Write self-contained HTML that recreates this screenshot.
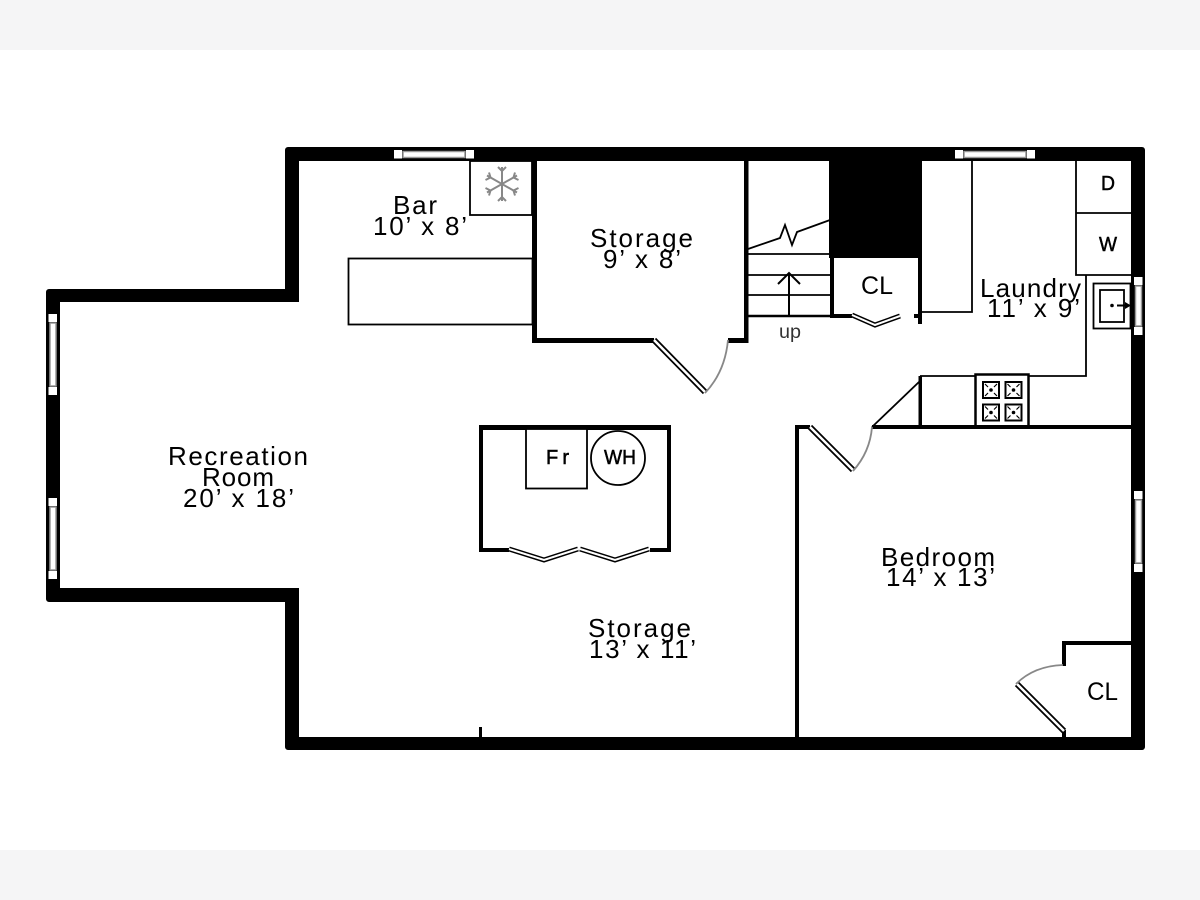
<!DOCTYPE html>
<html>
<head>
<meta charset="utf-8">
<title>Floor plan</title>
<style>
html,body{margin:0;padding:0;background:#fff;}
svg{display:block;}
text{font-family:"Liberation Sans",sans-serif;fill:#000;}
.t{font-size:26px;}
.c{font-size:25px;}
.s{font-size:20px;stroke:#000;stroke-width:.5px;}
</style>
</head>
<body>
<svg width="1200" height="900" viewBox="0 0 1200 900" xmlns="http://www.w3.org/2000/svg">
<defs>
<g id="bf"><path d="M0 0L35 11L69 0" fill="none" stroke="#000" stroke-width="5"/><path d="M0 0L35 11L69 0" fill="none" stroke="#fff" stroke-width="2"/></g>
<g id="wh"><rect x="0" y="0" width="8" height="8.500" fill="#fff"/><rect x="72" y="0" width="8" height="8.500" fill="#fff"/><rect x="9" y="1.500" width="62" height="6" fill="#fff" stroke="#999" stroke-width="1.500"/></g>
<g id="wv"><rect x="0" y="0" width="8.500" height="8" fill="#fff"/><rect x="0" y="73" width="8.500" height="8" fill="#fff"/><rect x="1.500" y="9" width="6" height="63" fill="#fff" stroke="#999" stroke-width="1.500"/></g>
<g id="bn"><rect x="0" y="0" width="16" height="16" fill="#fff" stroke="#000" stroke-width="2"/><path d="M2 2L5 5M14 2L11 5M2 14L5 11M14 14L11 11" stroke="#000" stroke-width="1.200"/><circle cx="8" cy="8" r="1.800" fill="#000"/></g>
</defs>

<rect width="1200" height="900" fill="#fff"/>
<rect width="1200" height="50" fill="#f5f5f6"/>
<rect y="850" width="1200" height="50" fill="#f5f5f6"/>

<!-- outer walls -->
<path d="M288 150H1142V747H288V599H49V292H288Z" fill="#000" stroke="#000" stroke-width="6" stroke-linejoin="round"/>
<path d="M299 161H1131V737H299V588H60V302H299Z" fill="#fff"/>

<!-- windows -->
<use href="#wh" x="394" y="150"/>
<use href="#wh" x="955" y="150"/>
<use href="#wv" x="48.500" y="314"/>
<use href="#wv" x="48.500" y="498"/>
<use href="#wv" x="1134" y="491"/>
<g><rect x="1134" y="277" width="8.500" height="8" fill="#fff"/><rect x="1134" y="327" width="8.500" height="8" fill="#fff"/><rect x="1135.500" y="286" width="6" height="40" fill="#fff" stroke="#999" stroke-width="1.500"/></g>

<!-- bar -->
<g fill="none" stroke="#000">
<rect x="470" y="161" width="62" height="54" stroke-width="1.800"/>
<rect x="348.500" y="258.500" width="184" height="66" stroke-width="1.800"/>
</g>
<g stroke="#888" stroke-width="2" fill="none" transform="translate(502 184)">
<path d="M0-17V17M-15-8.500L15 8.500M-15 8.500L15-8.500"/>
<path d="M-4-17L0-13L4-17M-4 17L0 13L4 17M-16.500-4L-11.500-6.500L-13-11.500M16.500-4L11.500-6.500L13-11.500M-16.500 4L-11.500 6.500L-13 11.500M16.500 4L11.500 6.500L13 11.500"/>
</g>

<!-- storage room walls -->
<g fill="#000">
<rect x="532" y="161" width="5" height="182"/>
<rect x="532" y="338" width="122" height="5"/>
<rect x="728" y="338" width="20" height="5"/>
<rect x="744" y="161" width="4.500" height="182"/>
</g>
<path d="M654 340L705 392" stroke="#000" stroke-width="6" fill="none"/>
<path d="M654 340L705 392" stroke="#fff" stroke-width="2.500" fill="none"/>
<path d="M705 393Q725 372 728 340" stroke="#888" stroke-width="1.800" fill="none"/>

<!-- stairs -->
<g stroke="#000" fill="none">
<path d="M748 254H830M748 275H830M748 295H830" stroke-width="1.800"/>
<path d="M748 316H830" stroke-width="2.500"/>
<path d="M748 249L780 238L785 225L792 245L797 232L830 220" stroke-width="1.800"/>
<path d="M789 316V273M778 284L789 273L800 284" stroke-width="2"/>
</g>

<!-- chimney + closet -->
<rect x="829" y="161" width="93" height="97" fill="#000"/>
<rect x="830" y="258" width="4" height="60" fill="#000"/>
<rect x="918" y="258" width="4" height="66" fill="#000"/>
<rect x="830" y="314" width="22" height="4" fill="#000"/>
<rect x="914" y="314" width="8" height="4" fill="#000"/>
<path d="M852 315L875 325L900 316" stroke="#000" stroke-width="5" fill="none"/>
<path d="M852 315L875 325L900 316" stroke="#fff" stroke-width="2" fill="none"/>
<path d="M922 312H972V161" stroke="#000" stroke-width="1.800" fill="none"/>

<!-- laundry -->
<g fill="none" stroke="#000" stroke-width="1.800">
<path d="M1076 161V275H1131M1076 213H1131"/>
<path d="M1086 275V376H920"/>
<rect x="1093.500" y="283.500" width="37" height="45"/>
<rect x="1100" y="290" width="24" height="32"/>
<path d="M872 427L920 381"/>
<path d="M1117 305.500H1126" stroke-width="2"/>
</g>
<path d="M1125 302L1131 305.500L1125 309Z" fill="#000"/>
<circle cx="1112" cy="305.500" r="1.800" fill="#000"/>
<rect x="918.500" y="376" width="3.500" height="51" fill="#000"/>
<rect x="975.500" y="374.500" width="53" height="52" fill="#fff" stroke="#000" stroke-width="2.500"/>
<use href="#bn" x="983" y="382"/>
<use href="#bn" x="1005.500" y="382"/>
<use href="#bn" x="983" y="404.500"/>
<use href="#bn" x="1005.500" y="404.500"/>

<!-- bedroom walls -->
<g fill="#000">
<rect x="872" y="425" width="259" height="4"/>
<rect x="795" y="425" width="4" height="312"/>
<rect x="795" y="425" width="15" height="4"/>
<rect x="1062" y="641" width="4" height="25"/>
<rect x="1062" y="641" width="69" height="4"/>
<rect x="1062" y="730" width="4" height="7"/>
<rect x="479" y="727" width="3" height="10"/>
</g>
<path d="M810 427L853 470" stroke="#000" stroke-width="6" fill="none"/>
<path d="M810 427L853 470" stroke="#fff" stroke-width="2.500" fill="none"/>
<path d="M853 471Q870 452 872 427" stroke="#888" stroke-width="1.800" fill="none"/>
<path d="M1017 684L1064 731" stroke="#000" stroke-width="6" fill="none"/>
<path d="M1017 684L1064 731" stroke="#fff" stroke-width="2.500" fill="none"/>
<path d="M1016 684Q1034 666 1063 665" stroke="#888" stroke-width="1.800" fill="none"/>

<!-- utility closet -->
<g fill="#000">
<rect x="480" y="425" width="191" height="5"/>
<rect x="479" y="425" width="4" height="127"/>
<rect x="667" y="425" width="4" height="127"/>
<rect x="479" y="548" width="30" height="4"/>
<rect x="650" y="548" width="21" height="4"/>
</g>
<use href="#bf" x="509" y="549"/>
<use href="#bf" x="580" y="549"/>
<rect x="526" y="429" width="61" height="59.500" fill="#fff" stroke="#000" stroke-width="1.800"/>
<circle cx="618" cy="458" r="27" fill="#fff" stroke="#000" stroke-width="1.800"/>

<!-- labels -->
<text class="t" x="393" y="214" textLength="44">Bar</text>
<text class="t" x="373" y="235" textLength="94">10’ x 8’</text>
<text class="t" x="590" y="247" textLength="103">Storage</text>
<text class="t" x="603" y="268" textLength="78">9’ x 8’</text>
<text class="t" x="980" y="297" textLength="101">Laundry</text>
<text class="t" x="987" y="317" textLength="93">11’ x 9’</text>
<text class="t" x="168" y="465" textLength="140">Recreation</text>
<text class="t" x="202" y="486" textLength="72">Room</text>
<text class="t" x="183" y="507" textLength="111">20’ x 18’</text>
<text class="t" x="588" y="637" textLength="103">Storage</text>
<text class="t" x="589" y="658" textLength="107">13’ x 11’</text>
<text class="t" x="881" y="566" textLength="114">Bedroom</text>
<text class="t" x="886" y="586" textLength="109">14’ x 13’</text>
<text class="c" x="861" y="294" textLength="32" lengthAdjust="spacingAndGlyphs">CL</text>
<text class="c" x="1087" y="700" textLength="31" lengthAdjust="spacingAndGlyphs">CL</text>
<text class="s" x="1101" y="190" textLength="14" lengthAdjust="spacingAndGlyphs">D</text>
<text class="s" x="1099" y="251" textLength="18" lengthAdjust="spacingAndGlyphs">W</text>
<text class="s" x="546" y="464" textLength="23">Fr</text>
<text class="s" x="604" y="464" textLength="32" lengthAdjust="spacingAndGlyphs">WH</text>
<text x="779" y="338" font-size="19" style="fill:#333" textLength="22" lengthAdjust="spacingAndGlyphs">up</text>
</svg>
</body>
</html>
